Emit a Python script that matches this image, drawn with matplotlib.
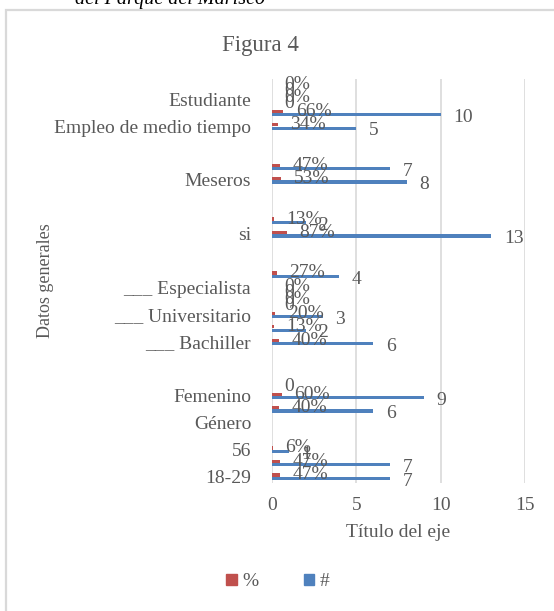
import matplotlib
matplotlib.use("Agg")
import matplotlib.pyplot as plt
from matplotlib.patches import Patch, Rectangle
import numpy as np

# categories from bottom to top (labels Excel hid are left empty)
categorias = ["18-29", "", "56", "", "Género", "", "Femenino", "", "", "",
              "___ Bachiller", "", "___ Universitario", "", "___ Especialista", "",
              "", "", "si", "", "", "", "Meseros", "", "", "",
              "Empleo de medio tiempo", "", "Estudiante", ""]
nan = np.nan
porcentaje = [0.47, 0.47, 0.06, nan, nan, 0.40, 0.60, nan, nan, nan,
              0.40, 0.13, 0.20, 0.0, 0.0, 0.27, nan, nan, 0.87, 0.13,
              nan, nan, 0.53, 0.47, nan, nan, 0.34, 0.66, 0.0, 0.0]
cantidad = [7, 7, 1, nan, nan, 6, 9, 0, nan, nan,
            6, 2, 3, 0, 0, 4, nan, nan, 13, 2,
            nan, nan, 8, 7, nan, nan, 5, 10, 0, 0]

ROJO = "#C0504D"
AZUL = "#4F81BD"
GRIS = "#595959"
FS = 14

plt.rcParams["font.family"] = ["Liberation Serif", "DejaVu Serif"]

fig = plt.figure(figsize=(5.54, 6.11), dpi=100)
ax = fig.add_axes([272/554, 1-483/611, 253/554, 404/611])

y = np.arange(len(categorias))
h = 0.24
ax.barh(y + 0.1, porcentaje, height=h, color=ROJO, zorder=3)
ax.barh(y - 0.15, cantidad, height=h, color=AZUL, zorder=3)

for i in range(len(categorias)):
    p = porcentaje[i]
    c = cantidad[i]
    if not np.isnan(p):
        ax.annotate("{:.0%}".format(p), (p, y[i] + 0.1), xytext=(9, 0),
                    textcoords="offset points", va="center", ha="left",
                    fontsize=FS, color=GRIS, zorder=4)
    if not np.isnan(c):
        ax.annotate("{:g}".format(c), (c, y[i] - 0.15), xytext=(9, -2),
                    textcoords="offset points", va="center", ha="left",
                    fontsize=FS, color=GRIS, zorder=4)

ax.set_xlim(0, 15)
ax.set_ylim(-0.5, len(categorias) - 0.5)
ax.set_xticks([0, 5, 10, 15])
ax.set_yticks(y)
ax.set_yticklabels(categorias)
ax.tick_params(axis="both", length=0, labelsize=FS, colors=GRIS)
ax.tick_params(axis="y", pad=15)
ax.tick_params(axis="x", pad=10)
ax.grid(axis="x", color="#d9d9d9", lw=1.2, zorder=0)
for s in ax.spines.values():
    s.set_visible(False)

ax.set_xlabel("Título del eje", fontsize=FS, color=GRIS, labelpad=7)
fig.text(45/554, 1-281/611, "Datos generales", rotation=90, fontsize=13,
         color=GRIS, ha="center", va="center")
fig.text(260/554, 1-45/611, "Figura 4", fontsize=16.5, color=GRIS,
         ha="center", va="center")

# chart border and the caption cut by the page
fig.add_artist(Rectangle((6/554, -0.1), 1.2, 1.1 - 10/611, transform=fig.transFigure,
                         fill=False, edgecolor="#d9d9d9", lw=1.6))
fig.text(75/554, 1-4/611, "del Parque del Marisco", fontsize=14.5, style="italic",
         color="black", ha="left", va="baseline")

handles = [Patch(color=ROJO, label="%"), Patch(color=AZUL, label="#")]
fig.legend(handles=handles, loc="center", bbox_to_anchor=(278/554, 1-582/611),
           ncol=2, frameon=False, fontsize=FS, labelcolor=GRIS,
           handlelength=0.55, handleheight=0.55, handletextpad=0.3, columnspacing=2.3)

fig.savefig("out.png", dpi=100)
